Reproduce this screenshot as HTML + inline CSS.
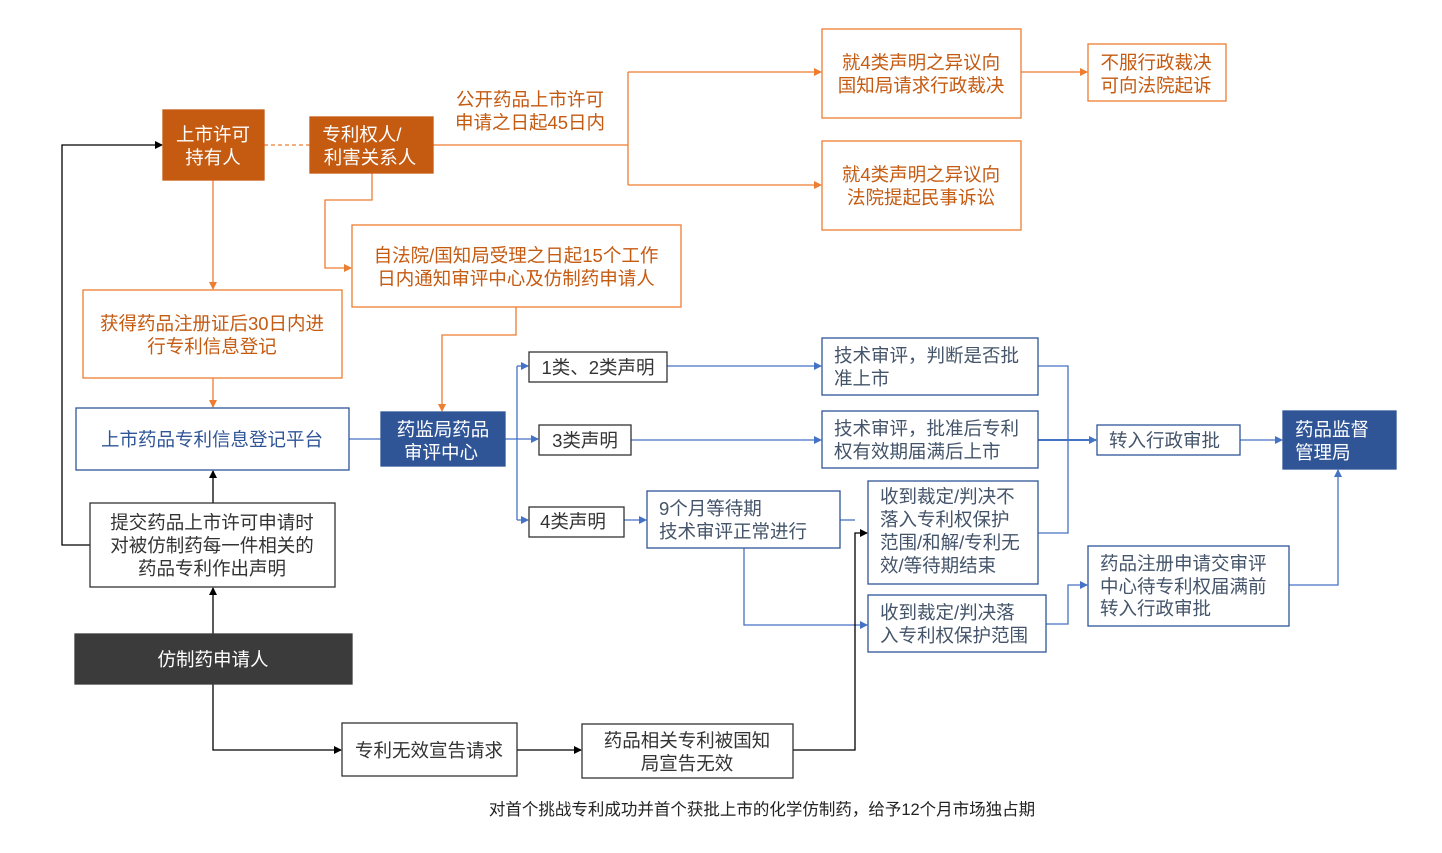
<!DOCTYPE html>
<html><head><meta charset="utf-8"><style>
html,body{margin:0;padding:0;background:#fff;}
svg{display:block;font-family:"Liberation Sans","Noto Sans CJK SC",sans-serif;}
</style></head><body>
<svg width="1442" height="853" viewBox="0 0 1442 853" xmlns="http://www.w3.org/2000/svg">
<defs>
<marker id="ao" markerWidth="8" markerHeight="8" refX="7" refY="4" orient="auto" markerUnits="userSpaceOnUse"><path d="M0,0 L8,4 L0,8 z" fill="#ED7D31"/></marker>
<marker id="ab" markerWidth="8" markerHeight="8" refX="7" refY="4" orient="auto" markerUnits="userSpaceOnUse"><path d="M0,0 L8,4 L0,8 z" fill="#4472C4"/></marker>
<marker id="ak" markerWidth="8" markerHeight="8" refX="7" refY="4" orient="auto" markerUnits="userSpaceOnUse"><path d="M0,0 L8,4 L0,8 z" fill="#000"/></marker>
</defs>
<g fill="none" stroke-width="1.3">
<line x1="264" y1="145" x2="310" y2="145" stroke="#ED7D31" stroke-dasharray="4,3"/>
<polyline points="433,145 628,145" stroke="#ED7D31"/>
<polyline points="628,72 628,185" stroke="#ED7D31"/>
<polyline points="628,72 821,72" stroke="#ED7D31" marker-end="url(#ao)"/>
<polyline points="628,185 821,185" stroke="#ED7D31" marker-end="url(#ao)"/>
<polyline points="1021,72 1087,72" stroke="#ED7D31" marker-end="url(#ao)"/>
<polyline points="372,173 372,200 325,200 325,268 351,268" stroke="#ED7D31" marker-end="url(#ao)"/>
<polyline points="213,180 213,289" stroke="#ED7D31" marker-end="url(#ao)"/>
<polyline points="213,378 213,407" stroke="#ED7D31" marker-end="url(#ao)"/>
<polyline points="516,307 516,335 442,335 442,411" stroke="#ED7D31" marker-end="url(#ao)"/>
<line x1="349" y1="439" x2="381" y2="439" stroke="#4472C4"/>
<polyline points="505,439 538,439" stroke="#4472C4" marker-end="url(#ab)"/>
<line x1="517" y1="366" x2="517" y2="520" stroke="#4472C4"/>
<polyline points="517,366 528,366" stroke="#4472C4" marker-end="url(#ab)"/>
<polyline points="517,520 528,520" stroke="#4472C4" marker-end="url(#ab)"/>
<polyline points="667,366 821,366" stroke="#4472C4" marker-end="url(#ab)"/>
<polyline points="631,440 821,440" stroke="#4472C4" marker-end="url(#ab)"/>
<polyline points="624,520 646,520" stroke="#4472C4" marker-end="url(#ab)"/>
<polyline points="1038,366 1068,366 1068,533 1038,533" stroke="#4472C4"/>
<polyline points="1038,440 1096,440" stroke="#4472C4" stroke-width="2" marker-end="url(#ab)"/>
<polyline points="1240,440 1282,440" stroke="#4472C4" marker-end="url(#ab)"/>
<polyline points="744,548 744,625 867,625" stroke="#4472C4" marker-end="url(#ab)"/>
<polyline points="1046,624 1068,624 1068,585 1087,585" stroke="#4472C4" marker-end="url(#ab)"/>
<polyline points="1289,585 1338,585 1338,470" stroke="#4472C4" marker-end="url(#ab)"/>
<polyline points="840,520 855,520" stroke="#4472C4"/>
<polyline points="90,545 62,545 62,145 162,145" stroke="#000" marker-end="url(#ak)"/>
<polyline points="213,503 213,471" stroke="#000" marker-end="url(#ak)"/>
<polyline points="213,634 213,588" stroke="#000" marker-end="url(#ak)"/>
<polyline points="213,684 213,750 341,750" stroke="#000" marker-end="url(#ak)"/>
<polyline points="517,750 581,750" stroke="#000" marker-end="url(#ak)"/>
<polyline points="793,750 855,750 855,533 867,533" stroke="#000" marker-end="url(#ak)"/>
</g>
<g stroke-width="1.3">
<rect x="163" y="110" width="101" height="70" fill="#C55A11" stroke="#C55A11"/>
<rect x="310" y="117" width="123" height="56" fill="#C55A11" stroke="#C55A11"/>
<rect x="822" y="29" width="199" height="89" fill="#fff" stroke="#ED7D31"/>
<rect x="1088" y="44" width="138" height="57" fill="#fff" stroke="#ED7D31"/>
<rect x="822" y="141" width="199" height="89" fill="#fff" stroke="#ED7D31"/>
<rect x="352" y="225" width="329" height="82" fill="#fff" stroke="#ED7D31"/>
<rect x="83" y="290" width="259" height="88" fill="#fff" stroke="#ED7D31"/>
<rect x="76" y="408" width="273" height="62" fill="#fff" stroke="#2F5597"/>
<rect x="381" y="412" width="124" height="54" fill="#2F5597" stroke="#2F5597"/>
<rect x="529" y="352" width="138" height="30" fill="#fff" stroke="#333"/>
<rect x="539" y="425" width="92" height="30" fill="#fff" stroke="#333"/>
<rect x="529" y="507" width="95" height="30" fill="#fff" stroke="#333"/>
<rect x="822" y="338" width="216" height="57" fill="#fff" stroke="#2F5597"/>
<rect x="822" y="411" width="216" height="57" fill="#fff" stroke="#2F5597"/>
<rect x="647" y="491" width="193" height="57" fill="#fff" stroke="#2F5597"/>
<rect x="868" y="481" width="170" height="103" fill="#fff" stroke="#2F5597"/>
<rect x="868" y="595" width="178" height="57" fill="#fff" stroke="#2F5597"/>
<rect x="1097" y="425" width="143" height="30" fill="#fff" stroke="#2F5597"/>
<rect x="1283" y="411" width="113" height="58" fill="#2F5597" stroke="#2F5597"/>
<rect x="1088" y="546" width="201" height="80" fill="#fff" stroke="#2F5597"/>
<rect x="90" y="503" width="245" height="84" fill="#fff" stroke="#333"/>
<rect x="75" y="634" width="277" height="50" fill="#3B3B3B" stroke="#3B3B3B"/>
<rect x="342" y="723" width="175" height="53" fill="#fff" stroke="#333"/>
<rect x="582" y="724" width="211" height="54" fill="#fff" stroke="#333"/>
</g>
<g font-size="18.5" text-anchor="middle">
<g fill="#fff">
<text x="213" y="141">上市许可</text><text x="213" y="164">持有人</text>
<text x="362" y="141">专利权人/</text><text x="370" y="164">利害关系人</text>
<text x="443" y="436">药监局药品</text><text x="441" y="459">审评中心</text>
<text x="213" y="666">仿制药申请人</text>
</g>
<g fill="#C55A11">
<text x="530" y="106">公开药品上市许可</text><text x="530" y="129">申请之日起45日内</text>
<text x="921" y="69">就4类声明之异议向</text><text x="921" y="92">国知局请求行政裁决</text>
<text x="1156" y="69">不服行政裁决</text><text x="1156" y="92">可向法院起诉</text>
<text x="921" y="181">就4类声明之异议向</text><text x="921" y="204">法院提起民事诉讼</text>
<text x="516" y="262">自法院/国知局受理之日起15个工作</text><text x="516" y="285">日内通知审评中心及仿制药申请人</text>
<text x="212" y="330">获得药品注册证后30日内进</text><text x="212" y="353">行专利信息登记</text>
</g>
<g fill="#2F5597">
<text x="212" y="446">上市药品专利信息登记平台</text>
</g>
<g fill="#333">
<text x="598" y="374">1类、2类声明</text>
<text x="585" y="447">3类声明</text>
<text x="573" y="528">4类声明</text>
<text x="212" y="529">提交药品上市许可申请时</text><text x="212" y="552">对被仿制药每一件相关的</text><text x="212" y="575">药品专利作出声明</text>
<text x="429" y="757">专利无效宣告请求</text>
<text x="687" y="747">药品相关专利被国知</text><text x="687" y="770">局宣告无效</text>
</g>
<g fill="#44546A" text-anchor="start">
<text x="834" y="362">技术审评，判断是否批</text><text x="834" y="385">准上市</text>
<text x="834" y="435">技术审评，批准后专利</text><text x="834" y="458">权有效期届满后上市</text>
<text x="659" y="515">9个月等待期</text><text x="659" y="538">技术审评正常进行</text>
<text x="880" y="503">收到裁定/判决不</text><text x="880" y="526">落入专利权保护</text><text x="880" y="549">范围/和解/专利无</text><text x="880" y="572">效/等待期结束</text>
<text x="880" y="619">收到裁定/判决落</text><text x="880" y="642">入专利权保护范围</text>
<text x="1109" y="447">转入行政审批</text>
<text x="1100" y="570">药品注册申请交审评</text><text x="1100" y="593">中心待专利权届满前</text><text x="1100" y="615">转入行政审批</text>
<text x="1295" y="436" fill="#fff">药品监督</text><text x="1295" y="459" fill="#fff">管理局</text>
</g>
<text x="762" y="815" font-size="16.5" fill="#222">对首个挑战专利成功并首个获批上市的化学仿制药，给予12个月市场独占期</text>
</g>
</svg>
</body></html>
